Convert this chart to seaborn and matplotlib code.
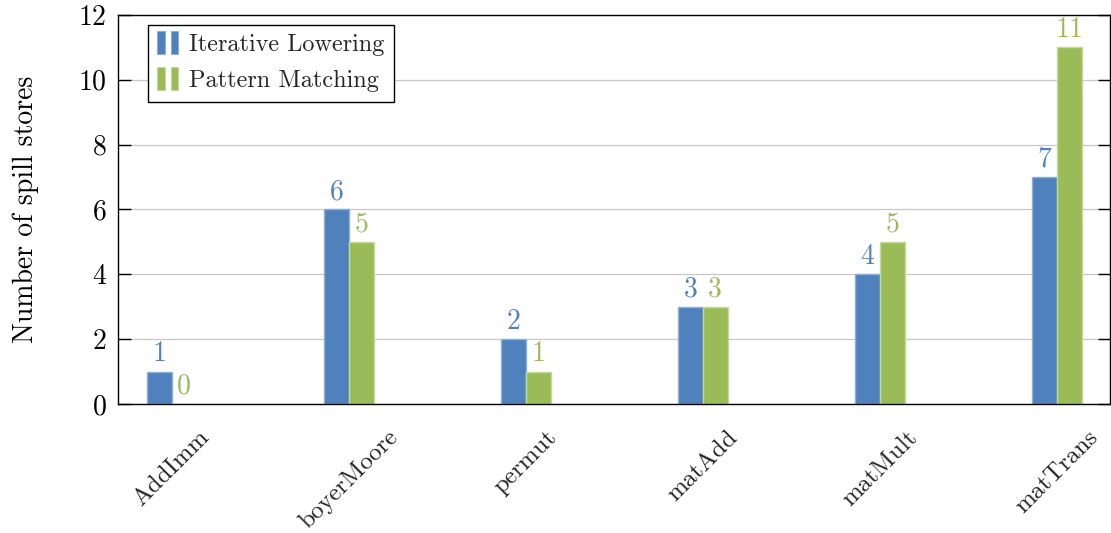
import matplotlib
matplotlib.use("Agg")
import matplotlib.pyplot as plt
import seaborn as sns
import pandas as pd
from matplotlib.patches import Rectangle
from matplotlib.legend_handler import HandlerBase

benchmarks = ["AddImm", "boyerMoore", "permut", "matAdd", "matMult", "matTrans"]
iterative = [1, 6, 2, 3, 4, 7]
pattern = [0, 5, 1, 3, 5, 11]
series_names = ["Iterative Lowering", "Pattern Matching"]
colors = ["#4F81BD", "#9BBB59"]
edge_colors = ["#8FAFD8", "#C4DA98"]

df = pd.DataFrame({
    "benchmark": benchmarks * 2,
    "value": iterative + pattern,
    "series": [series_names[0]] * len(benchmarks) + [series_names[1]] * len(benchmarks),
})

sns.set_theme(style="white")
plt.rcParams["font.family"] = ["cmr10", "DejaVu Serif"]
plt.rcParams["mathtext.fontset"] = "cm"
plt.rcParams["axes.formatter.use_mathtext"] = True
plt.rcParams["axes.unicode_minus"] = False

FS = 20

fig = plt.figure(figsize=(11.11, 5.33), dpi=100)
ax = fig.add_axes([0.106, 0.242, 0.893, 0.730])

sns.barplot(data=df, x="benchmark", y="value", hue="series", order=benchmarks,
            hue_order=series_names, palette=colors, width=0.28, gap=0,
            saturation=1, ax=ax, legend=False, linewidth=1.0)

for i, cont in enumerate(ax.containers):
    for p in cont:
        p.set_edgecolor(edge_colors[i])
    ax.bar_label(cont, labels=[str(int(v)) for v in cont.datavalues],
                 color=colors[i], fontsize=FS, padding=3)

ax.set_xlim(-0.305, 5.3)
ax.set_ylim(0, 12)
ax.set_yticks(range(0, 13, 2))
ax.yaxis.grid(True, color="#C8C8C8", linewidth=0.9)
ax.set_axisbelow(True)
for s in ax.spines.values():
    s.set_visible(True)
    s.set_color("black")
    s.set_linewidth(1.0)

ax.tick_params(axis="y", direction="in", length=9, width=1.0, left=True, right=True,
               labelsize=FS, colors="black", pad=8)
ax.tick_params(axis="x", length=0, labelsize=18, pad=16)
for lab in ax.get_xticklabels():
    lab.set_rotation(45)
    lab.set_ha("center")
    lab.set_va("top")

ax.set_xlabel("")
ax.set_ylabel("Number of spill stores", fontsize=FS, labelpad=28, color="black")


class TwoBarHandler(HandlerBase):
    def __init__(self, color, edge):
        super().__init__()
        self.color = color
        self.edge = edge

    def create_artists(self, legend, orig_handle, xdescent, ydescent, width, height,
                       fontsize, trans):
        bw = width * 0.3
        h = height * 1.35
        y0 = -ydescent - height * 0.15
        r1 = Rectangle((-xdescent, y0), bw, h, facecolor=self.color,
                       edgecolor=self.edge, lw=0.8, transform=trans)
        r2 = Rectangle((-xdescent + width * 0.55, y0), bw, h, facecolor=self.color,
                       edgecolor=self.edge, lw=0.8, transform=trans)
        return [r1, r2]


h1 = Rectangle((0, 0), 1, 1)
h2 = Rectangle((0, 0), 1, 1)
leg = ax.legend([h1, h2], series_names,
                handler_map={h1: TwoBarHandler(colors[0], edge_colors[0]),
                             h2: TwoBarHandler(colors[1], edge_colors[1])},
                loc="upper left", bbox_to_anchor=(0.03, 0.975), fontsize=17.5,
                frameon=True, fancybox=False, edgecolor="black", framealpha=1,
                handlelength=1.0, handletextpad=0.3, borderpad=0.4,
                labelspacing=0.55, borderaxespad=0)
leg.get_frame().set_linewidth(1.0)

fig.savefig("out.png", dpi=100)
